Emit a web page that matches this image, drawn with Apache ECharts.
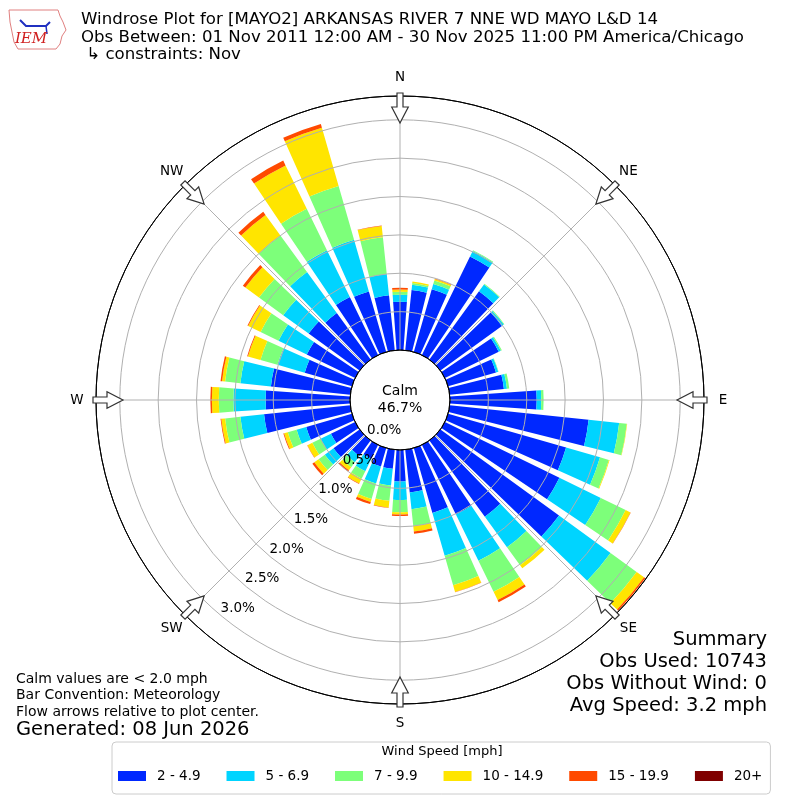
<!DOCTYPE html>
<html><head><meta charset="utf-8">
<script src="https://cdn.jsdelivr.net/npm/echarts@6/dist/echarts.min.js"></script>
<style>html,body{margin:0;padding:0;background:#fff}#c{width:800px;height:800px}</style>
</head><body><div id="c"></div>
<script>
// Direction bins (degrees, meteorological convention)
const directions = [0,10,20,30,40,50,60,70,80,90,100,110,120,130,140,150,160,170,
                    180,190,200,210,220,230,240,250,260,270,280,290,300,310,320,330,340,350];
const speedBins = ['2 - 4.9','5 - 6.9','7 - 9.9','10 - 14.9','15 - 19.9','20+'];
const binColors = ['#0028ff','#00d4ff','#7dff7a','#ffe500','#ff4a00','#7f0000'];
// frequency (%) per direction for each speed bin
const spd2_49   = [0.63,0.79,0.85,1.43,1.10,0.99,0.78,0.65,0.71,1.13,1.82,1.60,1.66,1.91,1.23,1.01,0.88,0.56,
                   0.41,0.25,0.25,0.20,0.25,0.42,0.35,0.62,1.13,1.10,1.04,0.64,0.70,0.82,0.75,0.84,0.82,0.72];
const spd5_69   = [0.09,0.07,0.07,0.08,0.11,0.03,0.03,0.03,0.04,0.06,0.40,0.46,0.60,0.83,0.49,0.67,0.58,0.22,
                   0.24,0.22,0.23,0.18,0.10,0.14,0.15,0.13,0.31,0.42,0.40,0.37,0.41,0.41,0.66,0.68,0.70,0.28];
const spd7_99   = [0.04,0.02,0.05,0.01,0.01,0.01,0.015,0.005,0.03,0.03,0.10,0.12,0.36,0.42,0.29,0.45,0.40,0.22,
                   0.16,0.20,0.21,0.11,0.08,0.10,0.12,0.12,0.20,0.19,0.20,0.23,0.26,0.39,0.59,0.60,0.73,0.48];
const spd10_149 = [0.03,0.02,0.02,0,0,0,0,0,0,0,0.005,0.01,0.07,0.12,0.05,0.12,0.09,0.07,
                   0.03,0.09,0.04,0.07,0.05,0.07,0.07,0.05,0.05,0.09,0.04,0.17,0.18,0.22,0.33,0.63,0.79,0.15];
const spd15_199 = [0.02,0,0.005,0,0,0,0,0,0,0,0,0,0.005,0.02,0,0.03,0.005,0.03,
                   0.02,0.005,0.03,0.005,0.02,0.03,0.005,0.01,0.01,0.02,0.02,0.01,0.01,0.04,0.05,0.07,0.05,0.005];
const spd20p    = [0,0,0,0,0,0,0,0,0,0,0,0,0,0,0,0,0,0,
                   0,0,0,0,0,0,0,0,0,0,0,0,0,0,0,0,0,0];
const radiusTicks = [0,0.5,1.0,1.5,2.0,2.5,3.0];
const radiusMax = 3.31;
const compassNames = ['N','NE','E','SE','S','SW','W','NW'];
const compassBearings = [0,45,90,135,180,225,270,315];
const calmText = 'Calm\n46.7%';
const titleLines = ['Windrose Plot for [MAYO2] ARKANSAS RIVER 7 NNE WD MAYO L&D 14',
  'Obs Between: 01 Nov 2011 12:00 AM - 30 Nov 2025 11:00 PM America/Chicago',
  ' \u21b3 constraints: Nov'];
const noteLines = ['Calm values are < 2.0 mph','Bar Convention: Meteorology','Flow arrows relative to plot center.'];
const generatedText = 'Generated: 08 Jun 2026';
const summaryLines = ['Summary','Obs Used: 10743','Obs Without Wind: 0','Avg Speed: 3.2 mph'];

const seriesValues = [spd2_49, spd5_69, spd7_99, spd10_149, spd15_199, spd20p];
const FONT = 'DejaVu Sans';
const CX = 400, CY = 400, R_IN = 50, R_OUT = 304;

const chart = echarts.init(document.getElementById('c'), null, {renderer:'canvas'});

const barSeries = seriesValues.map((vals, i) => ({
  type:'bar', name: speedBins[i], coordinateSystem:'polar', polarIndex:0,
  stack:'w', data: vals, barWidth:'80%', z:2, silent:true,
  itemStyle:{color: binColors[i]}
}));

const graphics = [];
function txt(x, y, text, size, align, vAlign, lh) {
  const style = {x, y, text, fontSize:size, fontFamily:FONT, fill:'#000',
    align, verticalAlign:vAlign, textAlign:align, textVerticalAlign:vAlign};
  if (lh) style.lineHeight = lh;
  graphics.push({type:'text', z:100, silent:true, style});
}
titleLines.forEach((t,i)=> txt(81, 20 + i*17.5, t, 16.6, 'left', 'middle'));
noteLines.forEach((t,i)=> txt(16, 679 + i*16.5, t, 14, 'left', 'middle'));
txt(16, 730, generatedText, 19.5, 'left', 'middle');
summaryLines.forEach((t,i)=> txt(767, 640 + i*22, t, 19.5, 'right', 'middle'));
txt(CX, CY, calmText, 14, 'center', 'middle', 17);
txt(442, 752, 'Wind Speed [mph]', 13, 'center', 'middle');

// compass arrows and labels
compassBearings.forEach((b, i) => {
  const a = b * Math.PI / 180, s = Math.sin(a), c = Math.cos(a);
  const P = (t, w) => [CX + t*s + w*c, CY - t*c + w*s];
  graphics.push({type:'polygon', z:101, silent:true,
    shape:{points:[P(277,0),P(293,8.3),P(293,3),P(307,3),P(307,-3),P(293,-3),P(293,-8.3)]},
    style:{fill:'#fff', stroke:'#333', lineWidth:1.2}});
  const L = P(323, 0);
  txt(L[0], L[1], compassNames[i], 13.5, 'center', 'middle');
});

// IEM logo (approximation)
graphics.push({type:'polyline', z:100, silent:true,
  shape:{points:[[9,10],[58,10],[60,16],[63,22],[66,30],[62,36],[60,44],[56,49],[18,49],[14,42],[12,32],[10,22],[9,10]]},
  style:{stroke:'#e08080', lineWidth:1, fill:null}});
graphics.push({type:'polyline', z:100, silent:true, shape:{points:[[20,20],[26,26],[46,26],[50,22]]}, style:{stroke:'#2030c0', lineWidth:2, fill:null}});
graphics.push({type:'polyline', z:100, silent:true, shape:{points:[[46,26],[47,34]]}, style:{stroke:'#2030c0', lineWidth:1.5, fill:null}});
graphics.push({type:'text', z:100, silent:true, style:{x:31, y:39, text:'IEM', fontSize:15, fontStyle:'italic', fontFamily:'DejaVu Serif', fill:'#d02020', align:'center', verticalAlign:'middle', textAlign:'center', textVerticalAlign:'middle'}});

const option = {
  backgroundColor:'#fff',
  animation:false,
  textStyle:{fontFamily:FONT},
  polar:[
    {center:[CX, CY], radius:[R_IN, R_OUT]},
    {center:[CX, CY], radius:[R_IN, R_OUT]}
  ],
  angleAxis:[
    {polarIndex:0, type:'category', data:directions, startAngle:95, clockwise:true, boundaryGap:true,
     axisLine:{show:false}, axisTick:{show:false}, axisLabel:{show:false}, splitLine:{show:false}, splitArea:{show:false}},
    {polarIndex:1, type:'value', min:0, max:360, interval:45, startAngle:90, clockwise:true, z:10,
     axisLine:{show:true, lineStyle:{color:'#000', width:1}}, axisTick:{show:false}, axisLabel:{show:false},
     splitLine:{show:true, lineStyle:{color:'#b0b0b0', width:1}}, splitArea:{show:false}}
  ],
  radiusAxis:[
    {polarIndex:0, type:'value', min:0, max:radiusMax,
     axisLine:{show:false}, axisTick:{show:false}, axisLabel:{show:false}, splitLine:{show:false}},
    {polarIndex:1, type:'value', min:0, max:radiusMax, interval:0.5, z:10,
     axisLine:{show:false}, axisTick:{show:false}, axisLabel:{show:false},
     splitLine:{show:true, lineStyle:{color:['#000','#b0b0b0','#b0b0b0','#b0b0b0','#b0b0b0','#b0b0b0','#b0b0b0','#000'], width:1}}}
  ],
  legend:{
    left:112, top:742, orient:'horizontal',
    data: speedBins, icon:'rect', itemWidth:28, itemHeight:10, itemGap:26,
    padding:[27, 8, 11, 6],
    borderColor:'#cccccc', borderWidth:1, borderRadius:4, backgroundColor:'#fff',
    textStyle:{fontSize:13.5, fontFamily:FONT, color:'#000', padding:[0,0,0,6]},
    selectedMode:false
  },
  series: barSeries.concat([{
    type:'scatter', coordinateSystem:'polar', polarIndex:1, z:20, silent:true,
    symbol:'circle', symbolSize:1, itemStyle:{color:'rgba(0,0,0,0)'},
    data: radiusTicks.map(v => [v, 219.5]),
    label:{show:true, position:'inside', offset:[16,-8], fontSize:13.5, fontFamily:FONT, color:'#000',
      textBorderWidth:0, textBorderColor:'transparent', opacity:1,
      formatter: p => p.value[0].toFixed(1) + '%'}
  }]),
  graphic: graphics
};
chart.setOption(option);
</script></body></html>
